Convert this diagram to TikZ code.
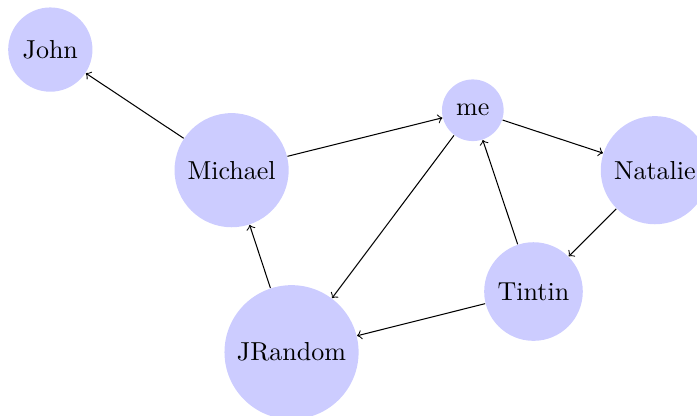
\documentclass[tikz,border=0pt]{standalone}
\tikzset{
	person/.style={circle, fill=blue!20, inner sep=3.8pt},
}
\begin{document}
\begin{tikzpicture}
		\useasboundingbox (0, 0) rectangle (9.42, 5.62);
		\node[person] (john) at (0.68, 4.95) {John};
		\node[person] (michael) at (3.13, 3.32) {Michael};
		\node[person] (me) at (6.39, 4.13) {me};
		\node[person] (natalie) at (8.85, 3.32) {Natalie};
		\node[person] (tintin) at (7.21, 1.68) {Tintin};
		\node[person] (jrandom) at (3.94, 0.86) {JRandom};
		\draw[->] (michael) -- (john);
		\draw[->] (michael) -- (me);
		\draw[->] (me) -- (natalie);
		\draw[->] (me) -- (jrandom);
		\draw[->] (natalie) -- (tintin);
		\draw[->] (tintin) -- (me);
		\draw[->] (tintin) -- (jrandom);
		\draw[->] (jrandom) -- (michael);
		\end{tikzpicture}
\end{document}
